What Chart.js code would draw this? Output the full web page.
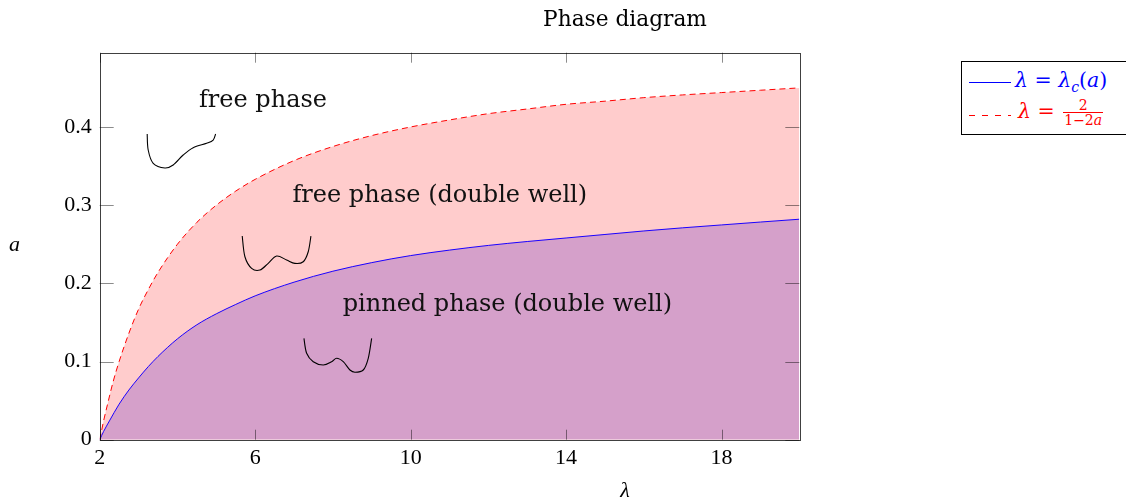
<!DOCTYPE html>
<html>
<head>
<meta charset="utf-8">
<script src="https://cdn.jsdelivr.net/npm/chart.js@4"></script>
<style>
  html, body { margin:0; padding:0; background:#fff; overflow:hidden; }
  #wrap { position:relative; width:1126px; height:504px; }
  canvas { position:absolute; left:0; top:0; }
  .lbl { position:absolute; font-family:"DejaVu Serif", serif; color:#000; white-space:nowrap; }
  #legend { position:absolute; left:961px; top:60.5px; width:190px; height:72px; border:1px solid #000; background:#fff; font-family:"DejaVu Serif", serif; }
  .ln { position:absolute; left:7px; width:42px; height:1px; }
  .ltxt { position:absolute; white-space:nowrap; font-size:20.5px; }
  .frac { display:inline-block; vertical-align:middle; text-align:center; font-size:14px; line-height:14px; margin-left:2px; }
  .frac .num { display:block; padding:0 1px; }
  .frac .den { display:block; border-top:1px solid red; padding:0 1px; }
</style>
</head>
<body>
<div id="wrap">
  <canvas id="c" width="1126" height="504"></canvas>
  <div class="lbl" id="title" style="left:0; width:1250px; text-align:center; top:6px; font-size:21.7px;">Phase diagram</div>
  <div class="lbl" style="left:9px; top:231px; font-size:22px; font-style:italic; font-family:'Liberation Serif', serif;">a</div>
  <div class="lbl" style="left:0; width:1250px; text-align:center; top:477px; font-size:22px; font-style:italic; font-family:'Liberation Serif', serif;">λ</div>
  <div id="legend">
    <div class="ln" style="top:20px; background:blue;"></div>
    <div class="ltxt" style="left:53px; top:6px; color:blue;"><i>λ</i> = <i>λ</i><sub style="font-size:14px;"><i>c</i></sub>(<i>a</i>)</div>
    <div class="ln" style="top:53px; background:repeating-linear-gradient(to right, red 0 6px, transparent 6px 13px);"></div>
    <div class="ltxt" style="left:56px; top:36px; color:red;"><i>λ</i> = <span class="frac"><span class="num">2</span><span class="den">1−2<i>a</i></span></span></div>
  </div>
</div>
<script>
// ---- data ----
const lambdaCritX = [2, 2.1, 2.25, 2.5, 2.75, 3, 3.25, 3.5, 4, 4.5, 5, 5.5, 6, 7, 8, 9, 10, 11, 12, 13, 14, 15, 16, 17, 18, 19, 20];
const lambdaCritA = [0, 0.0105, 0.024, 0.0455, 0.0635, 0.079, 0.0935, 0.1065, 0.129, 0.147, 0.161, 0.173, 0.184, 0.2015, 0.2155, 0.2265, 0.2355, 0.2425, 0.2485, 0.2535, 0.258, 0.2625, 0.267, 0.271, 0.2747, 0.2784, 0.282];

const lambdaFreeX = [2, 2.05, 2.1, 2.2, 2.35, 2.5, 2.75, 3, 3.25, 3.5, 4, 4.5, 5, 5.5, 6, 7, 8, 9, 10, 11, 12, 13, 14, 15, 16, 17, 18, 19, 20];
const lambdaFreeA = [0, 0.012, 0.024, 0.045, 0.075, 0.1, 0.136, 0.167, 0.192, 0.214, 0.25, 0.278, 0.3, 0.318, 0.333, 0.357, 0.375, 0.389, 0.4, 0.409, 0.417, 0.423, 0.429, 0.433, 0.4375, 0.441, 0.444, 0.447, 0.45];

const xTickValues = [2, 6, 10, 14, 18];
const yTickValues = [0, 0.1, 0.2, 0.3, 0.4];

const regionLabels = ['free phase', 'free phase (double well)', 'pinned phase (double well)'];
const regionLabelX = [6.2, 10.75, 12.49];
const regionLabelA = [0.4258, 0.3043, 0.1646];

// small potential-well glyphs: anchor in data coords, shape as offsets (px)
const wellAnchorX = [3.222, 5.667, 7.255];
const wellAnchorA = [0.391, 0.2605, 0.1297];
const wellShapes = [
  [[0,0],[1,16],[6,29.3],[17.7,34],[26,31],[36,21],[46,13.7],[59.4,9.3],[66,6],[68.4,0]],
  [[0,0],[2.7,20.7],[9.4,32.3],[17.7,34],[26,27.3],[34.4,20],[44.4,24],[52.7,27.3],[61,25.7],[66,15.7],[68.7,0]],
  [[0,0],[2.7,15],[9.3,23.4],[19.3,26.7],[27.7,23.4],[32.7,20],[39.3,23.4],[46,31.7],[51,34],[59.3,31.7],[64.3,20],[67.7,0]]
];

const toXY = (xs, ys) => xs.map((x, i) => ({x, y: ys[i]}));

function smoothPath(ctx, pts) {
  ctx.moveTo(pts[0][0], pts[0][1]);
  for (let i = 0; i < pts.length - 1; i++) {
    const p0 = pts[Math.max(i - 1, 0)], p1 = pts[i], p2 = pts[i + 1], p3 = pts[Math.min(i + 2, pts.length - 1)];
    const c1x = p1[0] + (p2[0] - p0[0]) / 6, c1y = p1[1] + (p2[1] - p0[1]) / 6;
    const c2x = p2[0] - (p3[0] - p1[0]) / 6, c2y = p2[1] - (p3[1] - p1[1]) / 6;
    ctx.bezierCurveTo(c1x, c1y, c2x, c2y, p2[0], p2[1]);
  }
}

const framePlugin = {
  id: 'frame',
  afterDatasetsDraw(chart) {
    const {ctx, chartArea: ca, scales: {x, y}} = chart;
    ctx.save();
    ctx.lineWidth = 1;
    ctx.strokeStyle = 'rgba(0,0,0,0.45)';
    ctx.beginPath();
    xTickValues.forEach(v => {
      const px = Math.round(x.getPixelForValue(v)) + 0.5;
      ctx.moveTo(px, ca.bottom); ctx.lineTo(px, ca.bottom - 10);
      ctx.moveTo(px, ca.top); ctx.lineTo(px, ca.top + 10);
    });
    yTickValues.forEach(v => {
      const py = Math.round(y.getPixelForValue(v)) + 0.5;
      ctx.moveTo(ca.left, py); ctx.lineTo(ca.left + 14, py);
      ctx.moveTo(ca.right, py); ctx.lineTo(ca.right - 14, py);
    });
    ctx.stroke();
    ctx.strokeStyle = 'rgba(0,0,0,0.75)';
    ctx.strokeRect(Math.round(ca.left) + 0.5, Math.round(ca.top) + 0.5, Math.round(ca.right - ca.left), Math.round(ca.bottom - ca.top));
    ctx.restore();
  }
};

const annotPlugin = {
  id: 'annot',
  afterDatasetsDraw(chart) {
    const {ctx, scales: {x, y}} = chart;
    ctx.save();
    ctx.fillStyle = '#111';
    ctx.font = '24px "DejaVu Serif"';
    ctx.textAlign = 'center';
    ctx.textBaseline = 'alphabetic';
    regionLabels.forEach((t, i) => {
      ctx.fillText(t, x.getPixelForValue(regionLabelX[i]), y.getPixelForValue(regionLabelA[i]));
    });
    ctx.strokeStyle = '#000';
    ctx.lineWidth = 1.1;
    wellShapes.forEach((shape, i) => {
      const ax = x.getPixelForValue(wellAnchorX[i]), ay = y.getPixelForValue(wellAnchorA[i]);
      ctx.beginPath();
      smoothPath(ctx, shape.map(p => [ax + p[0], ay + p[1]]));
      ctx.stroke();
    });
    ctx.restore();
  }
};

new Chart(document.getElementById('c'), {
  type: 'line',
  data: {
    datasets: [
      {
        label: 'λ = λc(a)',
        data: toXY(lambdaCritX, lambdaCritA),
        borderColor: '#1a00ff',
        borderWidth: 1,
        backgroundColor: '#D5A0CA',
        fill: 'origin',
        pointRadius: 0,
        cubicInterpolationMode: 'monotone'
      },
      {
        label: 'λ = 2/(1−2a)',
        data: toXY(lambdaFreeX, lambdaFreeA),
        borderColor: '#ff0000',
        borderWidth: 1,
        borderDash: [6, 4],
        backgroundColor: '#FFCCCC',
        fill: 'origin',
        pointRadius: 0,
        cubicInterpolationMode: 'monotone'
      }
    ]
  },
  options: {
    responsive: false,
    animation: false,
    devicePixelRatio: 1,
    layout: { padding: { left: 0, right: 326.7, top: 52.7, bottom: 0 } },
    plugins: { legend: { display: false }, tooltip: { enabled: false }, title: { display: false } },
    scales: {
      x: {
        type: 'linear', min: 2, max: 20,
        grid: { display: false, drawTicks: false },
        border: { display: false },
        afterBuildTicks: s => { s.ticks = xTickValues.map(v => ({value: v})); },
        afterFit: s => { s.height = 504 - 439.7; },
        ticks: { color: '#000', padding: 5, font: { family: 'Liberation Serif', size: 22 }, callback: v => String(v), maxRotation: 0 }
      },
      y: {
        type: 'linear', min: 0, max: 0.495,
        grid: { display: false, drawTicks: false },
        border: { display: false },
        afterBuildTicks: s => { s.ticks = yTickValues.map(v => ({value: v})); },
        afterFit: s => { s.width = 99.7; },
        ticks: { color: '#000', padding: 8, font: { family: 'Liberation Serif', size: 22 }, callback: v => String(v) }
      }
    }
  },
  plugins: [framePlugin, annotPlugin]
});
</script>
</body>
</html>
